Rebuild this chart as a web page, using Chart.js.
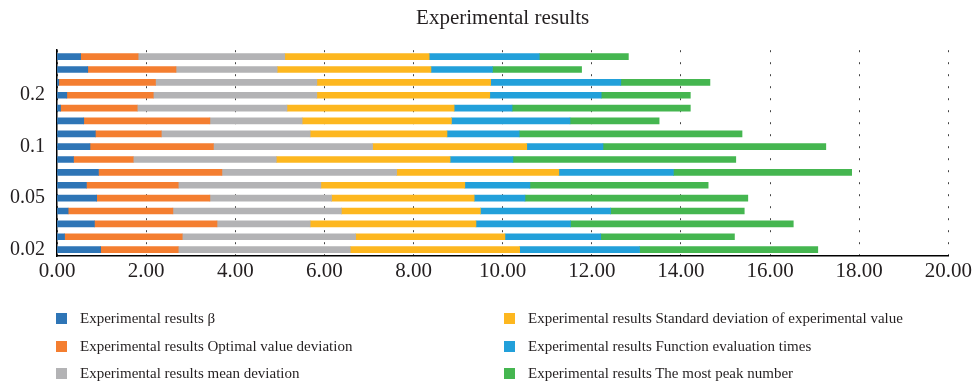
<!DOCTYPE html>
<html>
<head>
<meta charset="utf-8">
<script src="https://cdn.jsdelivr.net/npm/chart.js@4"></script>
<style>
  body { margin: 0; background: #fff; }
  #wrap { position: relative; width: 975px; height: 385px; }
  #legend { position: absolute; left: 0; top: 0; width: 975px; height: 385px; pointer-events: none;
            font-family: "Liberation Serif", "DejaVu Serif", serif; font-size: 15px; color: #231f20; }
  .item { position: absolute; height: 14px; line-height: 14px; white-space: nowrap; }
  .box { position: absolute; left: 0; top: 1px; width: 11px; height: 11px; }
  .label { position: absolute; left: 24px; top: -1px; }
</style>
</head>
<body>
<div id="wrap">
  <canvas id="chart" width="975" height="385"></canvas>
  <div id="legend"></div>
</div>
<script>
// categories, top to bottom (only every fourth row carries a label)
const categories = ["", "", "", "0.2", "", "", "", "0.1", "", "", "", "0.05", "", "", "", "0.02"];

// series values
const betaValues = [0.53, 0.69, 0.04, 0.22, 0.08, 0.60, 0.86, 0.74, 0.37, 0.93, 0.66, 0.89, 0.25, 0.84, 0.17, 0.98];
const optimalDeviation = [1.29, 1.98, 2.17, 1.94, 1.72, 2.83, 1.48, 2.77, 1.34, 2.77, 2.06, 2.54, 2.35, 2.75, 2.64, 1.74];
const meanDeviation = [3.29, 2.27, 3.62, 3.67, 3.36, 2.07, 3.34, 3.57, 3.21, 3.92, 3.20, 2.73, 3.78, 2.09, 3.89, 3.86];
const stdDeviation = [3.24, 3.45, 3.90, 3.88, 3.75, 3.35, 3.07, 3.46, 3.90, 3.64, 3.23, 3.20, 3.12, 3.72, 3.35, 3.80];
const evaluationTimes = [2.47, 1.38, 2.92, 2.50, 1.30, 2.66, 1.62, 1.71, 1.41, 2.57, 1.46, 1.14, 2.92, 2.12, 2.15, 2.69];
const peakNumber = [2, 2, 2, 2, 4, 2, 5, 5, 5, 4, 4, 5, 3, 5, 3, 4];

// x axis ticks
const xTicks = [0, 2, 4, 6, 8, 10, 12, 14, 16, 18, 20];

const seriesNames = [
    "Experimental results β",
    "Experimental results Optimal value deviation",
    "Experimental results mean deviation",
    "Experimental results Standard deviation of experimental value",
    "Experimental results Function evaluation times",
    "Experimental results The most peak number"
];
const seriesValues = [betaValues, optimalDeviation, meanDeviation, stdDeviation, evaluationTimes, peakNumber];
const seriesColors = ["#2e75b6", "#f47e30", "#b3b3b5", "#fdb71f", "#22a0da", "#45b650"];

const serif = "'Liberation Serif', 'DejaVu Serif', serif";

const datasets = seriesNames.map((name, i) => ({
    label: name,
    data: seriesValues[i],
    backgroundColor: seriesColors[i],
    borderWidth: 0,
    barThickness: 6
}));

const ctx = document.getElementById("chart").getContext("2d");

new Chart(ctx, {
    type: "bar",
    data: { labels: categories, datasets: datasets },
    options: {
        indexAxis: "y",
        responsive: false,
        animation: false,
        devicePixelRatio: 1,
        layout: { padding: { left: 0, right: 23, top: 0, bottom: 0 } },
        plugins: {
            legend: { display: false },
            tooltip: { enabled: false },
            title: {
                display: true,
                text: "Experimental results",
                fullSize: false,
                color: "#231f20",
                font: { family: serif, size: 21, weight: "normal" },
                padding: { top: 6, bottom: 19 }
            }
        },
        scales: {
            x: {
                stacked: true,
                min: 0,
                max: 20,
                afterBuildTicks: scale => { scale.ticks = xTicks.map(v => ({ value: v })); },
                afterFit: scale => { scale.height = 129; },
                ticks: {
                    color: "#231f20",
                    font: { family: serif, size: 21 },
                    padding: 3,
                    maxRotation: 0,
                    callback: v => Number(v).toFixed(2)
                },
                grid: { color: "#444", lineWidth: 1, drawTicks: false, borderDash: [2, 10] },
                border: { display: true, color: "#000", width: 1.5, dash: [2, 10] }
            },
            y: {
                stacked: true,
                afterFit: scale => { scale.width = 57; },
                ticks: {
                    color: "#231f20",
                    font: { family: serif, size: 20 },
                    padding: 12,
                    autoSkip: false
                },
                grid: { display: false, drawTicks: false },
                border: { display: true, color: "#000", width: 1.5 }
            }
        }
    }
});

// Legend in two columns, filled column by column
const legendDiv = document.getElementById("legend");
const colX = [56, 504];
const rowY = [312, 340, 367];
seriesNames.forEach((name, i) => {
    const item = document.createElement("div");
    item.className = "item";
    item.style.left = colX[Math.floor(i / 3)] + "px";
    item.style.top = rowY[i % 3] + "px";
    item.innerHTML = `<span class="box" style="background:${seriesColors[i]}"></span><span class="label">${name}</span>`;
    legendDiv.appendChild(item);
});
</script>
</body>
</html>
